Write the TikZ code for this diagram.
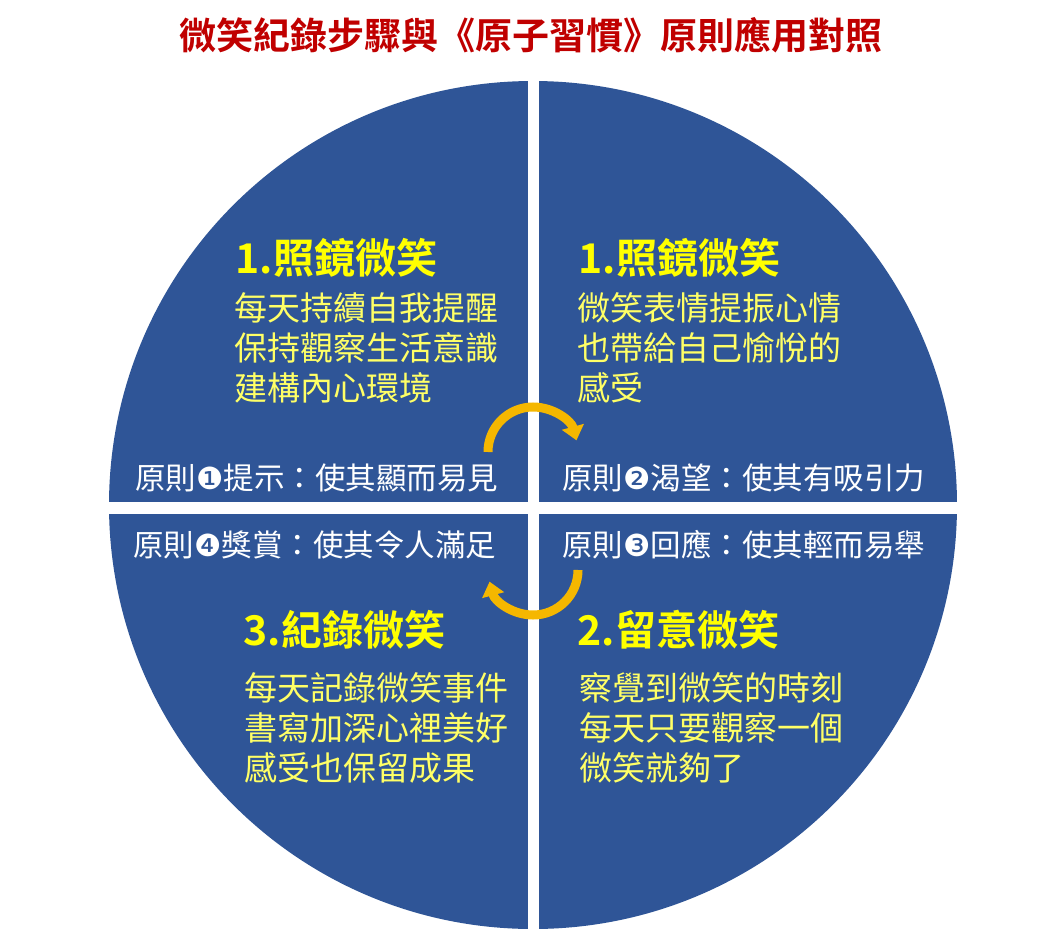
\documentclass[tikz,border=0pt]{standalone}
\usepackage{fontspec}
\setmainfont{Noto Sans CJK TC}[BoldFont={Noto Sans CJK TC Bold}]
\newfontfamily\symfont{DejaVu Sans}
\usetikzlibrary{arrows.meta}
\definecolor{diskblue}{HTML}{2F5597}
\definecolor{titlered}{HTML}{C00000}
\definecolor{headyellow}{HTML}{FFFF00}
\definecolor{bodyyellow}{HTML}{FFFF66}
\definecolor{loopgold}{HTML}{F5B700}
\tikzset{
    heading/.style={anchor=west, text=headyellow, font=\bfseries\fontsize{41}{46}\selectfont},
    body/.style={anchor=north west, text=bodyyellow, align=left, inner sep=0pt, font=\fontsize{33}{40}\selectfont},
    rule/.style={anchor=west, text=white, inner sep=0pt, font=\fontsize{30.5}{32}\selectfont},
    loop/.style={loopgold, line width=9pt, -{Triangle[length=14pt,width=22pt]}}
}
\begin{document}
\begin{tikzpicture}[x=1pt,y=1pt]
    \useasboundingbox[fill=white] (0,0) rectangle (1062,-947);
    % Disk and gaps
    \fill[diskblue] (533,-505) circle (424);
    \fill[white] (528,-70) rectangle (539,-940);
    \fill[white] (100,-502) rectangle (970,-514);

    \node[text=titlered, font=\bfseries\fontsize{37}{40}\selectfont] (title) at (531,-35) {微笑紀錄步驟與《原子習慣》原則應用對照};

    % Upper quadrants
    \node[heading] (h1) at (232,-258) {1.照鏡微笑};
    \node[body]    (b1) at (234,-292) {每天持續自我提醒\\保持觀察生活意識\\建構內心環境};
    \node[heading] (h2) at (575,-258) {1.照鏡微笑};
    \node[body]    (b2) at (577,-292) {微笑表情提振心情\\也帶給自己愉悅的\\感受};

    % Principles
    \node[rule] (r1) at (135,-478) {原則{\symfont ❶}提示：使其顯而易見};
    \node[rule] (r2) at (562,-478) {原則{\symfont ❷}渴望：使其有吸引力};
    \node[rule] (r4) at (133,-545) {原則{\symfont ❹}獎賞：使其令人滿足};
    \node[rule] (r3) at (562,-545) {原則{\symfont ❸}回應：使其輕而易舉};

    % Lower quadrants
    \node[heading] (h3) at (240,-630) {3.紀錄微笑};
    \node[body]    (b3) at (244,-672) {每天記錄微笑事件\\書寫加深心裡美好\\感受也保留成果};
    \node[heading] (h4) at (574,-630) {2.留意微笑};
    \node[body]    (b4) at (579,-672) {察覺到微笑的時刻\\每天只要觀察一個\\微笑就夠了};

    % Cycle arrows
    \coordinate (upstart) at (488,-452);
    \coordinate (lowstart) at (578,-570);
    \draw[loop] (upstart) arc (180:15:45);
    \draw[loop] (lowstart) arc (0:-165:45);
\end{tikzpicture}
\end{document}
